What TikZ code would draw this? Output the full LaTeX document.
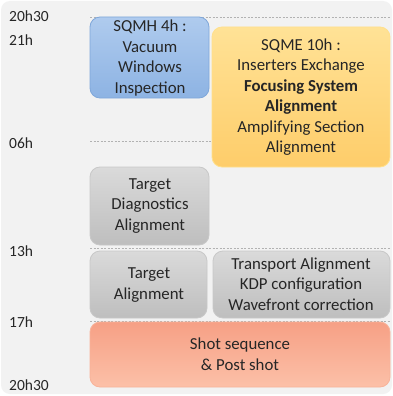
\documentclass[tikz,border=0pt]{standalone}
\usepackage{fontspec}
\setmainfont{Carlito}
\usetikzlibrary{positioning}
\definecolor{cardbg}{HTML}{F2F2F2}
\definecolor{ink}{HTML}{262626}
\definecolor{blueT}{HTML}{AFCBEE}
\definecolor{blueB}{HTML}{8DB3E3}
\definecolor{blueE}{HTML}{7FA7DA}
\definecolor{orT}{HTML}{FFE296}
\definecolor{orB}{HTML}{FECD6A}
\definecolor{orE}{HTML}{FFE08C}
\definecolor{grT}{HTML}{DADADA}
\definecolor{grB}{HTML}{BEBEBE}
\definecolor{grE}{HTML}{C8C8C8}
\definecolor{saT}{HTML}{F6A085}
\definecolor{saB}{HTML}{FCC0A8}
\definecolor{saE}{HTML}{F8B39A}
\tikzset{
  x=1pt, y=-1pt,
  task/.style={rounded corners=10pt, line width=0.8pt},
  tasktext/.style={align=center, text=ink, font=\fontsize{16.8}{20.5}\selectfont},
  hour/.style={anchor=west, text=ink, font=\fontsize{15.5}{17}\selectfont, inner sep=0pt},
  grid/.style={dashed, draw=black!30, line width=0.5pt, dash pattern=on 2pt off 1.5pt},
}
\begin{document}
\begin{tikzpicture}
\useasboundingbox (0,0) rectangle (393,396);
% card background
\fill[white] (0,0) rectangle (393,396);
\fill[cardbg, rounded corners=9pt] (1,1) rectangle (392,394);

% hour grid lines
\draw[grid] (90,17) -- (390,17);
\draw[grid] (90,141) -- (212,141);
\draw[grid] (90,248) -- (390,248);
\draw[grid] (90,321) -- (390,321);

% hour labels
\node[hour] (h1) at (9,16) {20h30};
\node[hour] (h2) at (9,40) {21h};
\node[hour] (h3) at (9,143) {06h};
\node[hour] (h4) at (9,251) {13h};
\node[hour] (h5) at (9,322) {17h};
\node[hour] (h6) at (9,385) {20h30};

% task blocks
\draw[task, draw=blueE, top color=blueT, bottom color=blueB] (90,17) rectangle (209,98);
\node[tasktext] (sqmh) at (150,58) {SQMH 4h :\\Vacuum\\Windows\\Inspection};

\draw[task, draw=orE, top color=orT, bottom color=orB] (212,27) rectangle (390,167);
\node[tasktext] (sqme) at (301,97) {SQME 10h :\\Inserters Exchange\\\textbf{Focusing System}\\\textbf{Alignment}\\Amplifying Section\\Alignment};

\draw[task, draw=grE, top color=grT, bottom color=grB] (90,167) rectangle (209,245);
\node[tasktext] (tdiag) at (150,206) {Target\\Diagnostics\\Alignment};

\draw[task, draw=grE, top color=grT, bottom color=grB] (90,251) rectangle (207,318);
\node[tasktext] (talign) at (149,285) {Target\\Alignment};

\draw[task, draw=grE, top color=grT, bottom color=grB] (213,251) rectangle (390,318);
\node[tasktext] (transport) at (301,284) {Transport Alignment\\KDP configuration\\Wavefront correction};

\draw[task, draw=saE, top color=saT, bottom color=saB] (90,322) rectangle (390,387);
\node[tasktext] (shot) at (240,354) {Shot sequence\\\& Post shot};
\end{tikzpicture}
\end{document}
